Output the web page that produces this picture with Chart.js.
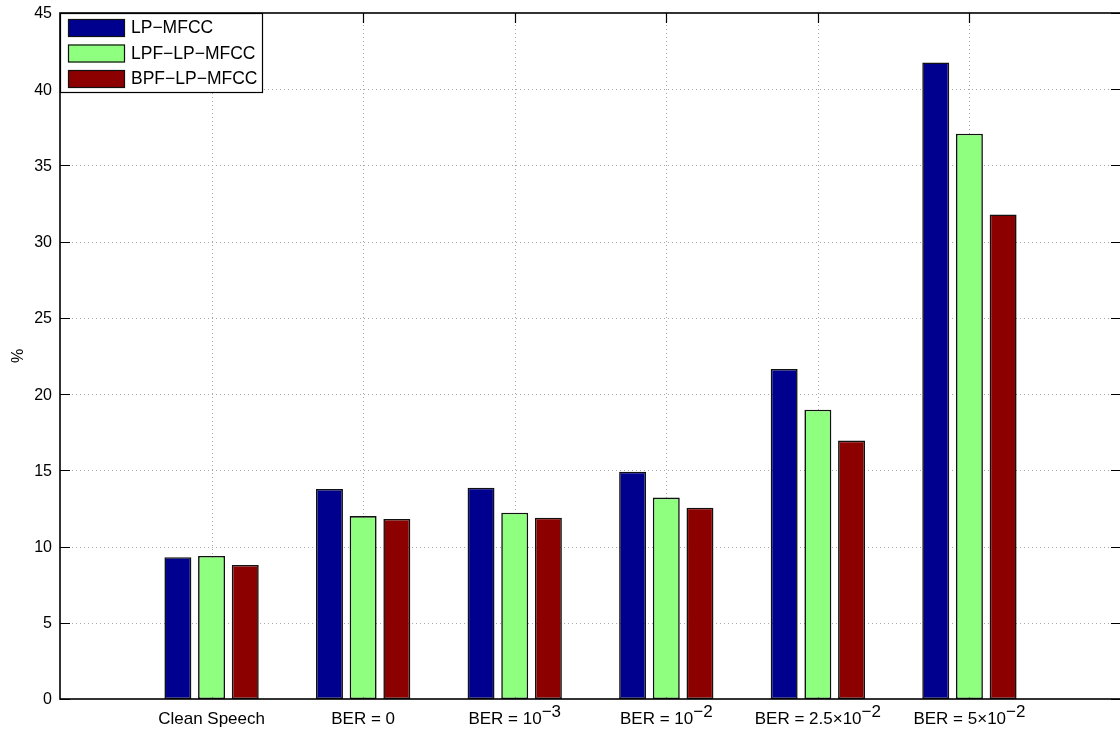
<!DOCTYPE html>
<html>
<head>
<meta charset="utf-8">
<script src="https://cdn.jsdelivr.net/npm/chart.js@4/dist/chart.umd.min.js"></script>
<style>
  html, body { margin: 0; padding: 0; background: #fff; overflow: hidden; }
  #wrap { position: relative; width: 1124px; height: 732px; }
</style>
</head>
<body>
<div id="wrap"><canvas id="chart"></canvas></div>
<script>
// Category labels: main text plus an optional superscript exponent
const categoryText = ['Clean Speech', 'BER = 0', 'BER = 10', 'BER = 10', 'BER = 2.5\u00d710', 'BER = 5\u00d710'];
const categorySup  = ['', '', '\u22123', '\u22122', '\u22122', '\u22122'];

// Series values (%)
const seriesNames = ['LP\u2212MFCC', 'LPF\u2212LP\u2212MFCC', 'BPF\u2212LP\u2212MFCC'];
const lpMfcc    = [9.30, 13.78, 13.86, 14.91, 21.65, 41.76];
const lpfLpMfcc = [9.38, 12.00, 12.22, 13.21, 18.98, 37.08];
const bpfLpMfcc = [8.79, 11.81, 11.89, 12.55, 16.95, 31.79];

// Axis ticks
const yTicks = [0, 5, 10, 15, 20, 25, 30, 35, 40, 45];
const yLabel = '%';

const seriesColors = ['#00008f', '#8fff80', '#8c0000'];
const FONT = '"Liberation Sans", Arial, Helvetica, sans-serif';

const toPoints = vals => vals.map((v, i) => ({ x: i + 1, y: v }));
const seriesValues = [lpMfcc, lpfLpMfcc, bpfLpMfcc];

const datasets = seriesValues.map((vals, k) => ({
  label: seriesNames[k],
  data: toPoints(vals),
  backgroundColor: seriesColors[k],
  borderColor: '#111',
  borderWidth: 1.6,
  borderSkipped: false,
  categoryPercentage: 2 / 3,
  barPercentage: 0.8
}));

// Axes box, dotted grid, inward ticks, labels and legend
const axesPlugin = {
  id: 'axesBox',
  beforeDatasetsDraw(chart) {
    const { ctx, chartArea: a, scales: { x, y } } = chart;
    ctx.save();
    // dotted grid
    ctx.strokeStyle = '#a8a8a8';
    ctx.lineWidth = 1;
    ctx.setLineDash([1, 3]);
    yTicks.forEach(t => {
      if (t === yTicks[0] || t === yTicks[yTicks.length - 1]) return;
      const py = Math.round(y.getPixelForValue(t)) + 0.5;
      ctx.beginPath(); ctx.moveTo(a.left, py); ctx.lineTo(a.right, py); ctx.stroke();
    });
    categoryText.forEach((_, i) => {
      const px = Math.round(x.getPixelForValue(i + 1)) + 0.5;
      ctx.beginPath(); ctx.moveTo(px, a.top); ctx.lineTo(px, a.bottom); ctx.stroke();
    });
    ctx.setLineDash([]);
    // inward tick marks
    ctx.strokeStyle = '#000';
    ctx.lineWidth = 1.2;
    const tl = 10;
    yTicks.forEach(t => {
      const py = Math.round(y.getPixelForValue(t)) + 0.5;
      ctx.beginPath();
      ctx.moveTo(a.left, py); ctx.lineTo(a.left + tl, py);
      ctx.moveTo(a.right, py); ctx.lineTo(a.right - tl, py);
      ctx.stroke();
    });
    categoryText.forEach((_, i) => {
      const px = Math.round(x.getPixelForValue(i + 1)) + 0.5;
      ctx.beginPath();
      ctx.moveTo(px, a.top); ctx.lineTo(px, a.top + tl);
      ctx.moveTo(px, a.bottom); ctx.lineTo(px, a.bottom - tl);
      ctx.stroke();
    });
    ctx.restore();
  },
  afterDatasetsDraw(chart) {
    const { ctx, chartArea: a } = chart;
    ctx.save();
    // frame
    ctx.strokeStyle = '#000';
    ctx.lineWidth = 1.6;
    ctx.strokeRect(a.left, a.top, a.right - a.left, a.bottom - a.top);

    // legend
    const lx = a.left, ly = a.top, lw = 202, lh = 79;
    ctx.fillStyle = '#fff';
    ctx.fillRect(lx, ly, lw, lh);
    ctx.lineWidth = 1.2;
    ctx.strokeRect(lx + 0.5, ly + 0.5, lw, lh);
    ctx.font = '17.5px ' + FONT;
    ctx.textBaseline = 'middle';
    ctx.textAlign = 'left';
    chart.data.datasets.forEach((ds, k) => {
      const ry = ly + 6 + k * 25.5;
      ctx.fillStyle = ds.backgroundColor;
      ctx.fillRect(lx + 8, ry, 57, 18);
      ctx.strokeStyle = '#111';
      ctx.lineWidth = 1.2;
      ctx.strokeRect(lx + 8.5, ry + 0.5, 56, 17);
      ctx.fillStyle = '#000';
      ctx.fillText(ds.label, lx + 71, ry + 9.5);
    });
    ctx.restore();
  },
  afterDraw(chart) {
    const { ctx, chartArea: a, scales: { x, y } } = chart;
    ctx.save();
    ctx.fillStyle = '#000';
    // y tick labels
    ctx.font = '16px ' + FONT;
    ctx.textAlign = 'right';
    ctx.textBaseline = 'middle';
    yTicks.forEach(t => ctx.fillText(String(t), a.left - 8, y.getPixelForValue(t) + 1));
    // y axis title
    ctx.save();
    ctx.translate(19, (a.top + a.bottom) / 2);
    ctx.rotate(-Math.PI / 2);
    ctx.textAlign = 'center';
    ctx.font = '16px ' + FONT;
    ctx.fillText(yLabel, 0, 0);
    ctx.restore();
    // x category labels with superscripts
    ctx.font = '17px ' + FONT;
    ctx.textAlign = 'left';
    ctx.textBaseline = 'alphabetic';
    categoryText.forEach((txt, i) => {
      const sup = categorySup[i];
      const w1 = ctx.measureText(txt).width;
      const w2 = sup ? ctx.measureText(sup).width : 0;
      const cx = x.getPixelForValue(i + 1);
      const start = cx - (w1 + w2) / 2;
      const base = a.bottom + 25;
      ctx.fillText(txt, start, base);
      if (sup) ctx.fillText(sup, start + w1, base - 7);
    });
    ctx.restore();
  }
};

new Chart(document.getElementById('chart'), {
  type: 'bar',
  data: { datasets },
  options: {
    responsive: true,
    maintainAspectRatio: false,
    animation: false,
    layout: { padding: { left: 60, top: 13, right: 3, bottom: 33 } },
    plugins: { legend: { display: false }, tooltip: { enabled: false } },
    scales: {
      x: { type: 'linear', display: false, offset: false, min: 0, max: 7, ticks: { stepSize: 1 } },
      y: { display: false, min: 0, max: 45, ticks: { stepSize: 5 } }
    }
  },
  plugins: [axesPlugin]
});
</script>
</body>
</html>
